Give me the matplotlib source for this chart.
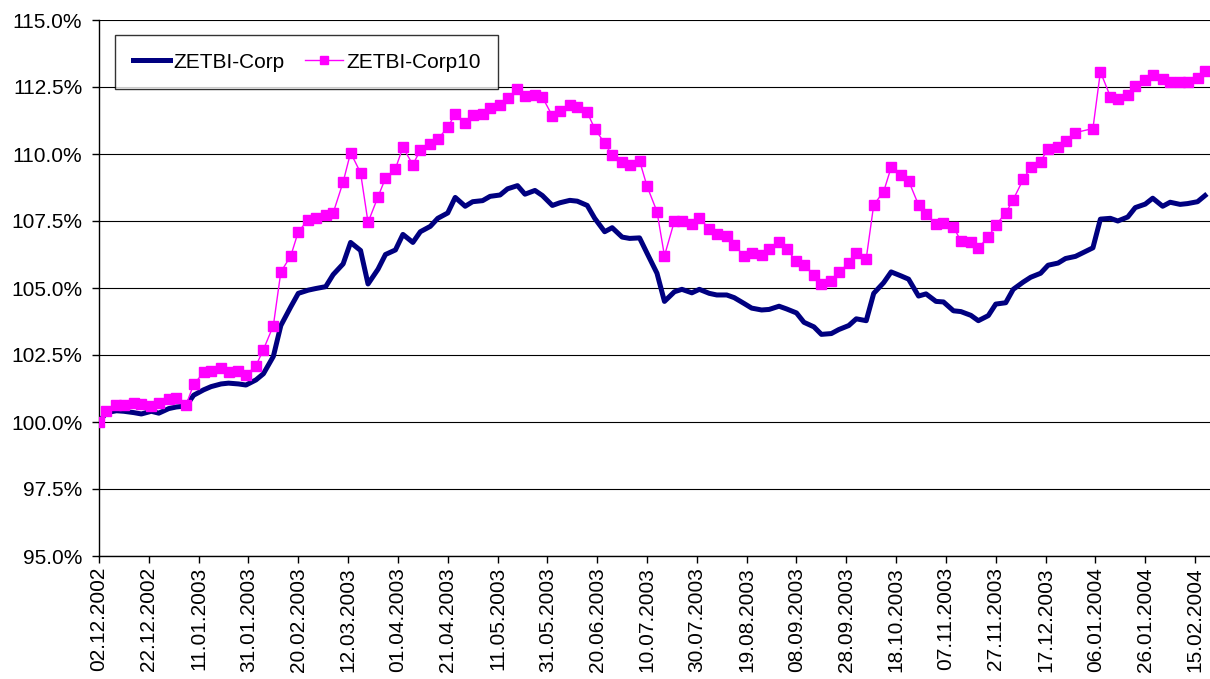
import matplotlib
matplotlib.use("Agg")
import matplotlib.pyplot as plt
import matplotlib.dates as mdates
import matplotlib.ticker as mticker
import pandas as pd

plt.rcParams["font.family"] = ["Liberation Sans", "DejaVu Sans"]

# -- Data (index level in %, twice-weekly fixings) ---------------------------
START = "2002-12-02"
END = "2004-02-19"
HOLIDAYS = ["2004-01-01"]
AXIS_END = "2004-02-21"

corp = [
    100.0, 100.35, 100.42, 100.4, 100.35, 100.3, 100.4, 100.33,
    100.5, 100.56, 100.6, 101.0, 101.2, 101.32, 101.42, 101.45,
    101.42, 101.38, 101.57, 101.8, 102.45, 103.6, 104.3, 104.8,
    104.92, 104.98, 105.05, 105.5, 105.9, 106.7, 106.4, 105.15,
    105.7, 106.25, 106.42, 107.0, 106.7, 107.1, 107.3, 107.6,
    107.8, 108.38, 108.05, 108.22, 108.26, 108.42, 108.47, 108.7,
    108.82, 108.5, 108.64, 108.45, 108.08, 108.18, 108.27, 108.24,
    108.08, 107.6, 107.1, 107.25, 106.9, 106.85, 106.87, 106.3,
    105.55, 104.5, 104.86, 104.95, 104.82, 104.95, 104.8, 104.74,
    104.74, 104.64, 104.42, 104.25, 104.18, 104.2, 104.32, 104.22,
    104.07, 103.72, 103.55, 103.27, 103.3, 103.45, 103.6, 103.85,
    103.78, 104.8, 105.2, 105.6, 105.45, 105.33, 104.7, 104.78,
    104.5, 104.48, 104.15, 104.12, 103.98, 103.78, 103.97, 104.4,
    104.45, 104.95, 105.22, 105.4, 105.55, 105.85, 105.93, 106.1,
    106.18, 106.5, 107.57, 107.6, 107.5, 107.65, 108.0, 108.13,
    108.35, 108.05, 108.2, 108.12, 108.15, 108.22, 108.45,
]

corp10 = [
    100.0, 100.4, 100.65, 100.62, 100.7, 100.68, 100.6, 100.72,
    100.85, 100.9, 100.65, 101.4, 101.85, 101.9, 102.0, 101.88,
    101.9, 101.75, 102.1, 102.7, 103.6, 105.6, 106.2, 107.1,
    107.55, 107.63, 107.73, 107.8, 108.95, 110.05, 109.3, 107.45,
    108.4, 109.1, 109.45, 110.25, 109.6, 110.15, 110.38, 110.55,
    111.0, 111.5, 111.15, 111.45, 111.5, 111.7, 111.83, 112.1,
    112.42, 112.15, 112.2, 112.12, 111.42, 111.6, 111.82, 111.75,
    111.55, 110.95, 110.4, 109.95, 109.72, 109.6, 109.75, 108.8,
    107.85, 106.2, 107.5, 107.5, 107.4, 107.6, 107.22, 107.03,
    106.93, 106.6, 106.2, 106.3, 106.23, 106.45, 106.7, 106.45,
    106.0, 105.86, 105.48, 105.15, 105.25, 105.6, 105.92, 106.3,
    106.1, 108.1, 108.6, 109.5, 109.2, 109.0, 108.1, 107.75,
    107.4, 107.42, 107.28, 106.75, 106.7, 106.5, 106.9, 107.35,
    107.8, 108.3, 109.05, 109.5, 109.72, 110.2, 110.25, 110.5,
    110.8, 110.95, 113.07, 112.14, 112.07, 112.2, 112.55, 112.76,
    112.95, 112.8, 112.7, 112.7, 112.7, 112.82, 113.1,
]

dates = pd.date_range(START, END, freq="D")
dates = dates[dates.dayofweek.isin([0, 3])]
dates = dates[~dates.isin(pd.to_datetime(HOLIDAYS))]
assert len(dates) == len(corp) == len(corp10)

tick_dates = pd.date_range(START, periods=23, freq="20D")

# -- Figure -----------------------------------------------------------------
W, H = 1210, 679
fig = plt.figure(figsize=(W / 100, H / 100), dpi=100)
fig.patch.set_facecolor("white")
ax = fig.add_axes([99 / W, 123 / H, 1111 / W, 536 / H])

ax.plot(dates, corp, color="#000080", lw=3.6, solid_joinstyle="round",
        label="ZETBI-Corp", zorder=3)
ax.plot(dates, corp10, color="#FF00FF", lw=1.0, marker="s", markersize=6.5,
        markeredgecolor="#FF00FF", label="ZETBI-Corp10", zorder=4)

ax.set_ylim(95, 115)
ax.set_xlim(pd.Timestamp(START), pd.Timestamp(AXIS_END))
ax.yaxis.set_major_locator(mticker.MultipleLocator(2.5))
ax.yaxis.set_major_formatter(mticker.FormatStrFormatter("%.1f%%"))
ax.set_xticks(tick_dates)
ax.xaxis.set_major_formatter(mdates.DateFormatter("%d.%m.%Y"))

ax.yaxis.grid(True, color="black", lw=0.8)
ax.set_axisbelow(True)
for s in ("top", "right"):
    ax.spines[s].set_visible(False)
for s in ("left", "bottom"):
    ax.spines[s].set_color("black")
    ax.spines[s].set_linewidth(1.0)

ax.tick_params(axis="y", direction="out", length=5, width=1, pad=7,
               labelsize=15)
ax.tick_params(axis="x", direction="out", length=5, width=1, pad=3,
               labelsize=15, labelrotation=90)

leg = ax.legend(loc="upper left", bbox_to_anchor=(0.0144, 0.972), ncol=2,
                fontsize=15, frameon=True, fancybox=False, shadow=False,
                edgecolor="black", borderaxespad=0, handlelength=1.8,
                handletextpad=0.15, columnspacing=1.0, borderpad=0.85,
                markerscale=0.8)
leg.get_frame().set_linewidth(1.0)

fig.savefig("out.png", dpi=100, facecolor="white")
